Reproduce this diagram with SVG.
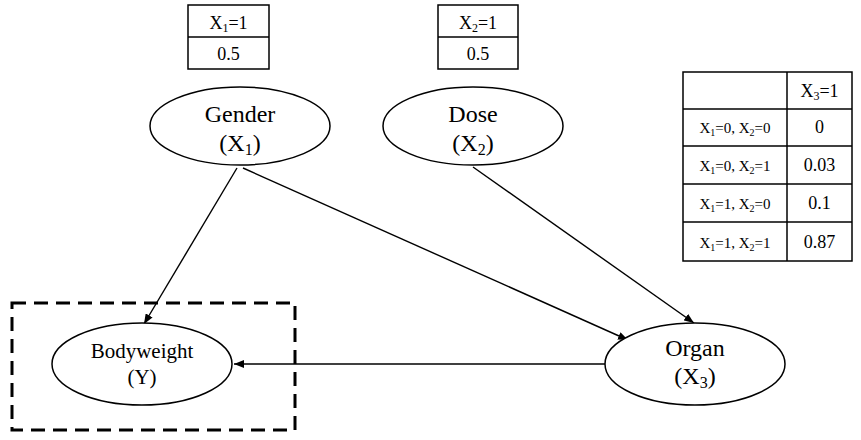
<svg xmlns="http://www.w3.org/2000/svg" width="861" height="440" viewBox="0 0 861 440">
<style>
text{font-family:'Liberation Serif','Times New Roman','DejaVu Serif',serif;fill:#000;text-anchor:middle}
.n{fill:#fff;stroke:#000;stroke-width:1.5}
.c{fill:none;stroke:#000;stroke-width:1.4}
.g{fill:none;stroke:#000;stroke-width:1.5}
</style>
<defs>
<marker id="ah" viewBox="0 0 10 8" refX="10" refY="4" markerWidth="10" markerHeight="8" markerUnits="userSpaceOnUse" orient="auto">
<path d="M0,0 L10,4 L0,8 Z" fill="#000"/>
</marker>
</defs>
<rect width="861" height="440" fill="#fff"/>
<g font-family="'Liberation Serif', 'Times New Roman', serif">
<g id="connectors">
<line class="c" x1="237" y1="168" x2="144" y2="324" marker-end="url(#ah)"/>
<line class="c" x1="243" y1="168" x2="628" y2="340" marker-end="url(#ah)"/>
<line class="c" x1="473" y1="167" x2="694" y2="323" marker-end="url(#ah)"/>
<line class="c" x1="605" y1="364" x2="234" y2="364" marker-end="url(#ah)"/>
</g>
<g id="box-y">
<rect x="12" y="303" width="283" height="127" fill="none" stroke="#000" stroke-width="3" stroke-dasharray="14,8"/>
</g>
<g id="gender">
<ellipse class="n" cx="240" cy="126" rx="90" ry="39"/>
<text x="240" y="122" font-size="24">Gender</text>
<text x="240" y="151" font-size="24">(X<tspan font-size="16" dy="4">1</tspan><tspan dy="-4">)</tspan></text>
</g>
<g id="dose">
<ellipse class="n" cx="473" cy="126" rx="90" ry="39"/>
<text x="473" y="122" font-size="24">Dose</text>
<text x="473" y="151" font-size="24">(X<tspan font-size="16" dy="4">2</tspan><tspan dy="-4">)</tspan></text>
</g>
<g id="bodyweight">
<ellipse class="n" cx="142" cy="364" rx="90" ry="41"/>
<text x="142" y="358" font-size="21">Bodyweight</text>
<text x="142" y="384" font-size="21">(Y)</text>
</g>
<g id="organ">
<ellipse class="n" cx="695" cy="364" rx="90" ry="41"/>
<text x="695" y="356" font-size="24">Organ</text>
<text x="695" y="384" font-size="24">(X<tspan font-size="16" dy="4">3</tspan><tspan dy="-4">)</tspan></text>
</g>
<g id="table-x1">
<rect class="g" x="188" y="5" width="81" height="64" fill="#fff"/>
<line class="g" x1="188" y1="37" x2="269" y2="37"/>
<text x="228.5" y="29" font-size="18">X<tspan font-size="12" dy="3">1</tspan><tspan dy="-3">=1</tspan></text>
<text x="228.5" y="60" font-size="18">0.5</text>
</g>
<g id="table-x2">
<rect class="g" x="438" y="5" width="80" height="64" fill="#fff"/>
<line class="g" x1="438" y1="37" x2="518" y2="37"/>
<text x="478" y="29" font-size="18">X<tspan font-size="12" dy="3">2</tspan><tspan dy="-3">=1</tspan></text>
<text x="478" y="60" font-size="18">0.5</text>
</g>
<g id="table-x3">
<rect class="g" x="683" y="72" width="169" height="189" fill="#fff"/>
<line class="g" x1="787" y1="72" x2="787" y2="261"/>
<line class="g" x1="683" y1="109" x2="852" y2="109"/>
<line class="g" x1="683" y1="146" x2="852" y2="146"/>
<line class="g" x1="683" y1="184" x2="852" y2="184"/>
<line class="g" x1="683" y1="222" x2="852" y2="222"/>
<text x="819.5" y="97" font-size="18">X<tspan font-size="12" dy="3">3</tspan><tspan dy="-3">=1</tspan></text>
<text x="735" y="133" font-size="15">X<tspan font-size="10" dy="3">1</tspan><tspan dy="-3">=0, X</tspan><tspan font-size="10" dy="3">2</tspan><tspan dy="-3">=0</tspan></text>
<text x="735" y="171" font-size="15">X<tspan font-size="10" dy="3">1</tspan><tspan dy="-3">=0, X</tspan><tspan font-size="10" dy="3">2</tspan><tspan dy="-3">=1</tspan></text>
<text x="735" y="209" font-size="15">X<tspan font-size="10" dy="3">1</tspan><tspan dy="-3">=1, X</tspan><tspan font-size="10" dy="3">2</tspan><tspan dy="-3">=0</tspan></text>
<text x="735" y="248" font-size="15">X<tspan font-size="10" dy="3">1</tspan><tspan dy="-3">=1, X</tspan><tspan font-size="10" dy="3">2</tspan><tspan dy="-3">=1</tspan></text>
<text x="819.5" y="133" font-size="18">0</text>
<text x="819.5" y="171" font-size="18">0.03</text>
<text x="819.5" y="209" font-size="18">0.1</text>
<text x="819.5" y="248" font-size="18">0.87</text>
</g>
</g>
</svg>
